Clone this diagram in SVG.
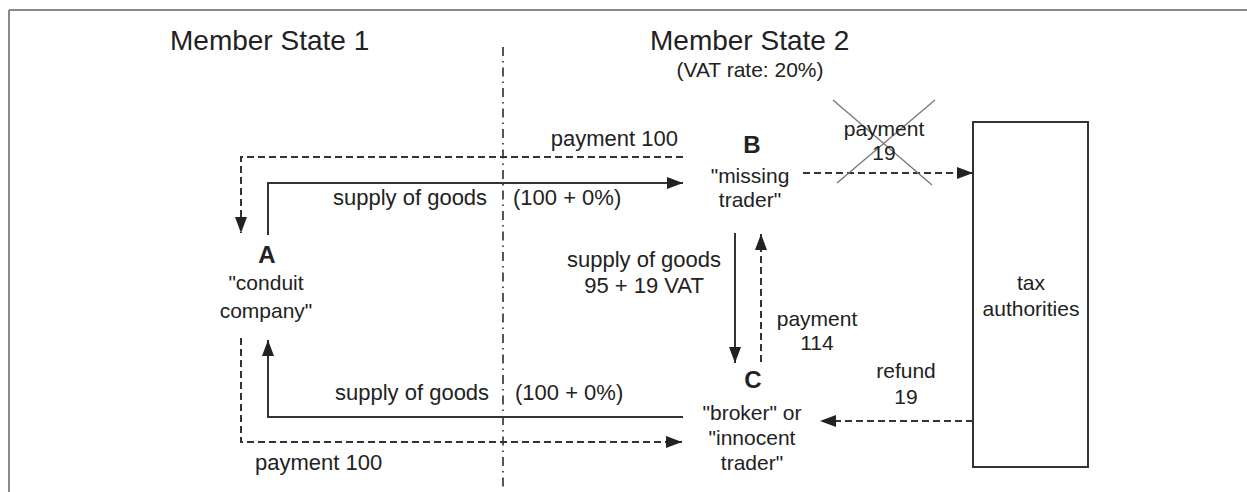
<svg xmlns="http://www.w3.org/2000/svg" width="1247" height="492" viewBox="0 0 1247 492">
<style>
  text { font-family: "Liberation Sans", Arial, sans-serif; fill: #222; }
  .title { font-size: 28px; }
  .lbl { font-size: 22px; }
  .ml { font-size: 21px; }
  .sub { font-size: 21px; }
  .big { font-size: 24px; font-weight: bold; }
  .solid { fill: none; stroke: #333; stroke-width: 2; }
  .dash { fill: none; stroke: #333; stroke-width: 2; stroke-dasharray: 7 4; }
  .frame { fill: none; stroke: #8a8a8a; stroke-width: 2; }
</style>
<defs>
  <marker id="ah" viewBox="0 0 16 12" refX="16" refY="6" markerWidth="16" markerHeight="12" markerUnits="userSpaceOnUse" orient="auto">
    <path d="M0,0 L16,6 L0,12 Z" fill="#222"/>
  </marker>
</defs>
<rect x="0" y="0" width="1247" height="492" fill="#fff"/>
<g id="frame">
  <line class="frame" x1="9" y1="10" x2="1247" y2="10"/>
  <line class="frame" x1="9" y1="10" x2="9" y2="492"/>
</g>
<g id="border">
  <line x1="503" y1="47" x2="503" y2="490" stroke="#444" stroke-width="1.8" stroke-dasharray="9 5 1.5 5"/>
</g>
<g id="titles">
  <text class="title" x="170" y="50">Member State 1</text>
  <text class="title" x="650" y="50">Member State 2</text>
  <text class="sub" x="750" y="77" text-anchor="middle">(VAT rate: 20%)</text>
</g>
<g id="nodeA">
  <text class="big" x="267" y="263" text-anchor="middle">A</text>
  <text class="sub" x="266" y="290" text-anchor="middle">"conduit</text>
  <text class="sub" x="266" y="318" text-anchor="middle">company"</text>
</g>
<g id="nodeB">
  <text class="big" x="752" y="153" text-anchor="middle">B</text>
  <text class="ml" x="750" y="183" text-anchor="middle">"missing</text>
  <text class="ml" x="750" y="207" text-anchor="middle">trader"</text>
</g>
<g id="nodeC">
  <text class="big" x="753" y="388" text-anchor="middle">C</text>
  <text class="ml" x="752" y="420" text-anchor="middle">"broker" or</text>
  <text class="ml" x="752" y="445" text-anchor="middle">"innocent</text>
  <text class="ml" x="752" y="470" text-anchor="middle">trader"</text>
</g>
<g id="taxAuthorities">
  <rect x="973" y="122" width="115" height="345" fill="none" stroke="#333" stroke-width="2"/>
  <text class="sub" x="1031" y="290" text-anchor="middle">tax</text>
  <text class="sub" x="1031" y="316" text-anchor="middle">authorities</text>
</g>
<g id="connectors">
  <path class="dash" d="M683,157 H241 V233" marker-end="url(#ah)"/>
  <path class="solid" d="M268,235 V183 H683" marker-end="url(#ah)"/>
  <path class="dash" d="M803,173 H973" marker-end="url(#ah)"/>
  <path class="solid" d="M735,233 V363" marker-end="url(#ah)"/>
  <path class="dash" d="M761,362 V234" marker-end="url(#ah)"/>
  <path class="solid" d="M683,417 H268 V340" marker-end="url(#ah)"/>
  <path class="dash" d="M241,338 V442 H682" marker-end="url(#ah)"/>
  <path class="dash" d="M973,421 H820" marker-end="url(#ah)"/>
  <line x1="833" y1="100" x2="932" y2="185" stroke="#777" stroke-width="1.3"/>
  <line x1="935" y1="100" x2="837" y2="183" stroke="#777" stroke-width="1.3"/>
</g>
<g id="labels">
  <text class="lbl" x="678" y="146" text-anchor="end">payment 100</text>
  <text class="lbl" x="333" y="205">supply of goods</text>
  <text class="lbl" x="513" y="205">(100 + 0%)</text>
  <text class="ml" x="884" y="136" text-anchor="middle">payment</text>
  <text class="ml" x="884" y="160" text-anchor="middle">19</text>
  <text class="lbl" x="644" y="267" text-anchor="middle">supply of goods</text>
  <text class="lbl" x="644" y="293" text-anchor="middle">95 + 19 VAT</text>
  <text class="ml" x="817" y="326" text-anchor="middle">payment</text>
  <text class="ml" x="817" y="350" text-anchor="middle">114</text>
  <text class="ml" x="906" y="378" text-anchor="middle">refund</text>
  <text class="ml" x="906" y="404" text-anchor="middle">19</text>
  <text class="lbl" x="335" y="400">supply of goods</text>
  <text class="lbl" x="515" y="400">(100 + 0%)</text>
  <text class="lbl" x="255" y="470">payment 100</text>
</g>
</svg>
